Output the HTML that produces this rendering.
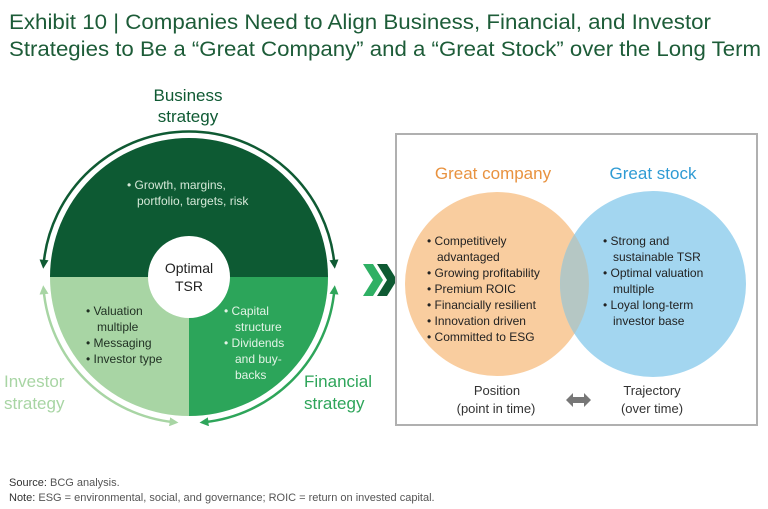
<!DOCTYPE html>
<html><head><meta charset="utf-8"><style>
html,body{margin:0;padding:0;background:#fff;}
svg{display:block;font-family:"Liberation Sans",sans-serif;}
</style></head><body>
<svg width="768" height="509" viewBox="0 0 768 509" xmlns="http://www.w3.org/2000/svg">
<defs>
<marker id="md" viewBox="0 0 10 10" refX="5" refY="5" markerWidth="9" markerHeight="9" orient="auto-start-reverse" markerUnits="userSpaceOnUse"><path d="M0,0 L10,5 L0,10 z" fill="#0f5a33"/></marker>
<marker id="mm" viewBox="0 0 10 10" refX="5" refY="5" markerWidth="9" markerHeight="9" orient="auto-start-reverse" markerUnits="userSpaceOnUse"><path d="M0,0 L10,5 L0,10 z" fill="#2ea55a"/></marker>
<marker id="ml" viewBox="0 0 10 10" refX="5" refY="5" markerWidth="9" markerHeight="9" orient="auto-start-reverse" markerUnits="userSpaceOnUse"><path d="M0,0 L10,5 L0,10 z" fill="#a8d5a4"/></marker>
</defs>
<g fill="#1d5c38" font-size="21">
<text x="9" y="29" textLength="702" lengthAdjust="spacingAndGlyphs">Exhibit 10 | Companies Need to Align Business, Financial, and Investor</text>
<text x="9" y="56" textLength="752" lengthAdjust="spacingAndGlyphs">Strategies to Be a “Great Company” and a “Great Stock” over the Long Term</text>
</g>
<!-- wheel -->
<path d="M50,277 A139,139 0 0 1 328,277 Z" fill="#0d5a33"/>
<path d="M189,277 L50,277 A139,139 0 0 0 189,416 Z" fill="#a8d5a4"/>
<path d="M189,277 L189,416 A139,139 0 0 0 328,277 Z" fill="#2ca55a"/>
<circle cx="189" cy="277" r="41" fill="#fff"/>
<text x="189" y="273" font-size="14" text-anchor="middle" fill="#222">Optimal</text>
<text x="189" y="291" font-size="14" text-anchor="middle" fill="#222">TSR</text>
<!-- arcs -->
<path d="M43.6,264.3 A146,146 0 0 1 334.4,264.3" fill="none" stroke="#0f5a33" stroke-width="2.5" marker-start="url(#md)" marker-end="url(#md)"/>
<path d="M43.6,289.7 A146,146 0 0 0 174,422.2" fill="none" stroke="#a8d5a4" stroke-width="2.5" marker-start="url(#ml)" marker-end="url(#ml)"/>
<path d="M334.4,289.7 A146,146 0 0 1 204,422.2" fill="none" stroke="#2ea55a" stroke-width="2.5" marker-start="url(#mm)" marker-end="url(#mm)"/>
<g font-size="17">
<text x="188" y="101" text-anchor="middle" fill="#0f5a33">Business</text>
<text x="188" y="122" text-anchor="middle" fill="#0f5a33">strategy</text>
<text x="4" y="387" fill="#a8d5a4">Investor</text>
<text x="4" y="409" fill="#a8d5a4">strategy</text>
<text x="304" y="387" fill="#2ea55a">Financial</text>
<text x="304" y="409" fill="#2ea55a">strategy</text>
</g>
<g font-size="12">
<text x="127" y="189" fill="#d5e8d8">• Growth, margins,</text>
<text x="137" y="205" fill="#d5e8d8">portfolio, targets, risk</text>
<g fill="#1f2f22">
<text x="86" y="315">• Valuation</text>
<text x="97" y="331">multiple</text>
<text x="86" y="347">• Messaging</text>
<text x="86" y="363">• Investor type</text>
</g>
<g fill="#e3f3e6">
<text x="224" y="315">• Capital</text>
<text x="235" y="331">structure</text>
<text x="224" y="347">• Dividends</text>
<text x="235" y="363">and buy-</text>
<text x="235" y="379">backs</text>
</g>
</g>
<!-- chevrons -->
<path d="M363,264 L373,264 L383,280 L373,296 L363,296 L373,280 Z" fill="#2fb064"/>
<path d="M377,264 L387,264 L397,280 L387,296 L377,296 L387,280 Z" fill="#0f5a33"/>
<!-- box -->
<rect x="396" y="134" width="361" height="291" fill="#fff" stroke="#b0b0b0" stroke-width="2"/>
<circle cx="497" cy="284" r="92" fill="#f9cd9f"/>
<circle cx="653" cy="284" r="93" fill="#a3d6f0"/>
<clipPath id="cc"><circle cx="497" cy="284" r="92"/></clipPath>
<circle cx="653" cy="284" r="93" fill="#b5c7c4" clip-path="url(#cc)"/>
<text x="493" y="179" font-size="17" text-anchor="middle" fill="#e8923f">Great company</text>
<text x="653" y="179" font-size="17" text-anchor="middle" fill="#2f9bd4">Great stock</text>
<g font-size="12" fill="#222">
<text x="427" y="245">• Competitively</text>
<text x="437" y="261">advantaged</text>
<text x="427" y="277">• Growing profitability</text>
<text x="427" y="293">• Premium ROIC</text>
<text x="427" y="309">• Financially resilient</text>
<text x="427" y="325">• Innovation driven</text>
<text x="427" y="341">• Committed to ESG</text>
<text x="603" y="245">• Strong and</text>
<text x="613" y="261">sustainable TSR</text>
<text x="603" y="277">• Optimal valuation</text>
<text x="613" y="293">multiple</text>
<text x="603" y="309">• Loyal long-term</text>
<text x="613" y="325">investor base</text>
</g>
<g font-size="13" fill="#333" text-anchor="middle">
<text x="497" y="395">Position</text>
<text x="496" y="413">(point in time)</text>
<text x="652" y="395">Trajectory</text>
<text x="652" y="413">(over time)</text>
</g>
<path d="M566,400 L573,393 L573,397 L584,397 L584,393 L591,400 L584,407 L584,403 L573,403 L573,407 Z" fill="#777"/>
<g font-size="11" fill="#555">
<text x="9" y="486"><tspan fill="#333">Source:</tspan> BCG analysis.</text>
<text x="9" y="501"><tspan fill="#333">Note:</tspan> ESG = environmental, social, and governance; ROIC = return on invested capital.</text>
</g>
</svg>
</body></html>
